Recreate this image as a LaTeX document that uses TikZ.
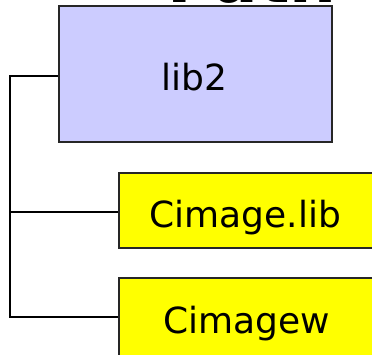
\documentclass[tikz,border=0pt]{standalone}
\usepackage{fontspec}
\setmainfont{DejaVu Sans}
\definecolor{libblue}{HTML}{CCCCFF}
\definecolor{fileyellow}{HTML}{FFFF00}
\begin{document}
\begin{tikzpicture}[x=1pt,y=1pt,
  box/.style={draw=black!85, line width=1.8pt, inner sep=0pt, anchor=south west},
  conn/.style={draw=black, line width=1.8pt},
  lbl/.style={font=\fontsize{36}{40}\selectfont, inner sep=0pt, anchor=base}]
\useasboundingbox (0,0) rectangle (372,354);
\clip (0,0) rectangle (372,354);
% title (clipped)
\node[font=\bfseries\fontsize{66}{70}\selectfont, inner sep=0pt, anchor=base west] (title) at (167,351) {Path};
% boxes
\node[box, fill=libblue, minimum width=273pt, minimum height=136pt] (lib2) at (58,211) {};
\node[box, fill=fileyellow, minimum width=258pt, minimum height=75pt] (cimglib) at (118,105) {};
\node[box, fill=fileyellow, minimum width=258pt, minimum height=80pt] (cimgw) at (118,-5) {};
% labels
\node[lbl] (t1) at (194.5,263) {lib2};
\node[lbl] (t2) at (245.5,127) {Cimage.lib};
\node[lbl] (t3) at (247,21) {Cimagew};
% connectors
\coordinate (top) at (10,278);
\coordinate (mid) at (10,142);
\coordinate (bot) at (10,37);
\draw[conn] (lib2.west |- top) -- (top) -- (bot) -- (cimgw.west |- bot);
\draw[conn] (mid) -- (cimglib.west |- mid);
\end{tikzpicture}
\end{document}
